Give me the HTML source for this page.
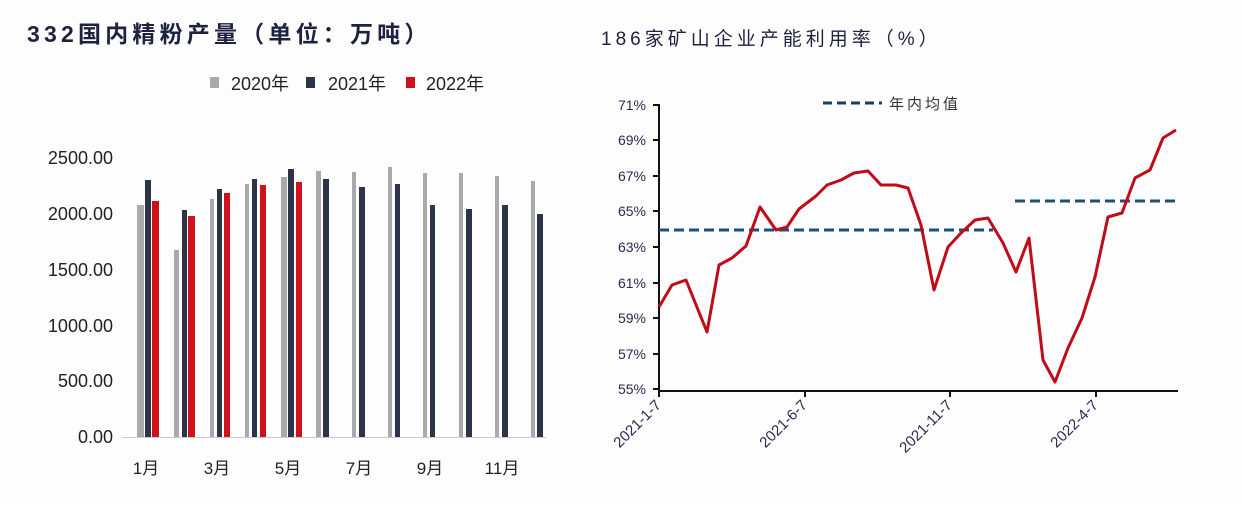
<!DOCTYPE html>
<html><head><meta charset="utf-8"><style>
html,body{margin:0;padding:0;background:#fff;}
svg{display:block;}
text{font-family:"Liberation Sans","Noto Sans CJK SC",sans-serif;}
</style></head><body>
<svg width="1242" height="506" viewBox="0 0 1242 506" xmlns="http://www.w3.org/2000/svg">
<rect width="1242" height="506" fill="#fdfdfe"/>
<!-- Left chart -->
<text x="27" y="42" font-size="23" font-weight="bold" fill="#1e2140" letter-spacing="4.2">332国内精粉产量（单位：万吨）</text>
<rect x="210" y="77" width="9" height="11" fill="#a8a8ad"/>
<text x="231" y="90" font-size="18" fill="#222">2020年</text>
<rect x="306" y="77" width="9" height="11" fill="#2d3447"/>
<text x="328" y="90" font-size="18" fill="#222">2021年</text>
<rect x="406" y="77" width="9" height="11" fill="#d0101a"/>
<text x="426" y="90" font-size="18" fill="#222">2022年</text>
<g font-size="18" fill="#222" text-anchor="end">
<text x="113" y="164">2500.00</text>
<text x="113" y="220">2000.00</text>
<text x="113" y="276">1500.00</text>
<text x="113" y="332">1000.00</text>
<text x="113" y="387">500.00</text>
<text x="113" y="443">0.00</text>
</g>
<g fill="#a8a8ad">
<rect x="137" y="205" width="7" height="232"/>
<rect x="174" y="250" width="5" height="187"/>
<rect x="210" y="199" width="4" height="238"/>
<rect x="245" y="184" width="4" height="253"/>
<rect x="281" y="177" width="6" height="260"/>
<rect x="316" y="171" width="5" height="266"/>
<rect x="352" y="172" width="4" height="265"/>
<rect x="388" y="167" width="4" height="270"/>
<rect x="423" y="173" width="4" height="264"/>
<rect x="459" y="173" width="4" height="264"/>
<rect x="495" y="176" width="4" height="261"/>
<rect x="531" y="181" width="4" height="256"/>
</g>
<g fill="#2d3447">
<rect x="145" y="180" width="6" height="257"/>
<rect x="182" y="210" width="5" height="227"/>
<rect x="217" y="189" width="5" height="248"/>
<rect x="252" y="179" width="5" height="258"/>
<rect x="288" y="169" width="6" height="268"/>
<rect x="323" y="179" width="6" height="258"/>
<rect x="359" y="187" width="6" height="250"/>
<rect x="395" y="184" width="5" height="253"/>
<rect x="430" y="205" width="5" height="232"/>
<rect x="466" y="209" width="6" height="228"/>
<rect x="502" y="205" width="6" height="232"/>
<rect x="537" y="214" width="6" height="223"/>
</g>
<g fill="#d0101a">
<rect x="152" y="201" width="7" height="236"/>
<rect x="188" y="216" width="7" height="221"/>
<rect x="224" y="193" width="6" height="244"/>
<rect x="260" y="185" width="6" height="252"/>
<rect x="296" y="182" width="6" height="255"/>
</g>
<line x1="122" y1="437.5" x2="546" y2="437.5" stroke="#ccc" stroke-width="1"/>
<g font-size="17" fill="#222" text-anchor="middle">
<text x="146" y="474">1月</text>
<text x="217" y="474">3月</text>
<text x="288" y="474">5月</text>
<text x="359" y="474">7月</text>
<text x="430" y="474">9月</text>
<text x="502" y="474">11月</text>
</g>
<!-- Right chart -->
<text x="601" y="45" font-size="19" fill="#1e2140" letter-spacing="4">186家矿山企业产能利用率（%）</text>
<line x1="823" y1="103" x2="882" y2="103" stroke="#1f3a5f" stroke-width="3" stroke-dasharray="9,5"/>
<text x="889" y="109" font-size="15" fill="#333" letter-spacing="3">年内均值</text>
<g font-size="14" fill="#2a2a50" text-anchor="end">
<text x="646" y="110">71%</text>
<text x="646" y="145">69%</text>
<text x="646" y="181">67%</text>
<text x="646" y="216">65%</text>
<text x="646" y="252">63%</text>
<text x="646" y="288">61%</text>
<text x="646" y="323">59%</text>
<text x="646" y="359">57%</text>
<text x="646" y="394">55%</text>
</g>
<g stroke="#111" stroke-width="2" fill="none">
<line x1="659" y1="104" x2="659" y2="391"/>
<line x1="659" y1="391" x2="1178" y2="391"/>
<path d="M653 105H659M653 140H659M653 176H659M653 211H659M653 247H659M653 283H659M653 318H659M653 354H659M653 389H659"/>
<path d="M805 391V397M950 391V397M1096 391V397M659 391V397"/>
</g>
<g stroke="#1f4e79" stroke-width="3" stroke-dasharray="10,5">
<line x1="659" y1="230" x2="993" y2="230"/>
<line x1="1015" y1="201" x2="1175" y2="201"/>
</g>
<polyline fill="none" stroke="#c00c18" stroke-width="3" stroke-linejoin="round" points="659,307 672,285 686,280 707,332 719,265 732,258 746,246 760,207 776,230 787,227 799,209 816,196 827,185 841,180 854,173 868,171 881,185 896,185 908,188 921,225 934,290 948,247 961,233 975,220 988,218 1003,243 1016,272 1029,238 1043,360 1055,382 1068,348 1082,318 1095,277 1108,217 1122,213 1135,178 1150,170 1163,138 1176,130"/>
<g font-size="15" fill="#2a2a50" text-anchor="end">
<text transform="translate(662,406) rotate(-45)">2021-1-7</text>
<text transform="translate(808,406) rotate(-45)">2021-6-7</text>
<text transform="translate(953,406) rotate(-45)">2021-11-7</text>
<text transform="translate(1099,406) rotate(-45)">2022-4-7</text>
</g>
</svg>
</body></html>
